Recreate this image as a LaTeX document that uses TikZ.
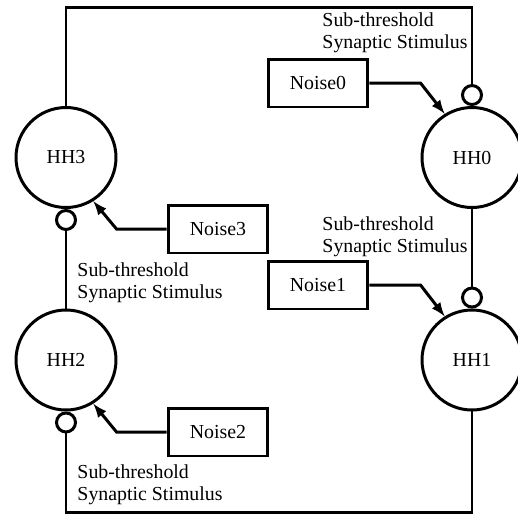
\documentclass[tikz,border=0pt]{standalone}
\usepackage{fontspec}
\setmainfont{Liberation Serif}
\usepackage{tikz}
\usetikzlibrary{arrows}

\begin{document}
\begin{tikzpicture}[x=0.02cm, y=-0.02cm, line width=1.7pt,
  every node/.style={font=\fontsize{11.3}{12.5}\selectfont},
  neuron/.style={draw, circle, minimum size=2cm, inner sep=0pt},
  synapse/.style={draw, circle, minimum size=0.38cm, inner sep=0pt},
  noise/.style={draw, rectangle, minimum width=2cm, minimum height=0.96cm, inner sep=0pt},
  stim/.style={align=left, anchor=base west, inner sep=0pt}]
  \useasboundingbox (0,0) rectangle (518,515);
  % neurons
  \node[neuron] (hh0) at (472,157.5) {HH0};
  \node[neuron] (hh1) at (472,360) {HH1};
  \node[neuron] (hh2) at (66,360) {HH2};
  \node[neuron] (hh3) at (66,157.5) {HH3};
  % synapses
  \node[synapse, anchor=south] (s0) at (hh0.north) {};
  \node[synapse, anchor=south] (s1) at (hh1.north) {};
  \node[synapse, anchor=north] (s2) at (hh2.south) {};
  \node[synapse, anchor=north] (s3) at (hh3.south) {};
  % noise sources
  \node[noise] (n0) at (318,83) {Noise0};
  \node[noise] (n1) at (318,285) {Noise1};
  \node[noise] (n2) at (218,432) {Noise2};
  \node[noise] (n3) at (218,229) {Noise3};
  % stimulus labels
  \node[stim] (l0) at (321,48) {Sub-threshold\\Synaptic Stimulus};
  \node[stim] (l1) at (321,252) {Sub-threshold\\Synaptic Stimulus};
  \node[stim] (l2) at (76,500) {Sub-threshold\\Synaptic Stimulus};
  \node[stim] (l3) at (76,298) {Sub-threshold\\Synaptic Stimulus};
  % ring
  \coordinate (tl) at (66,7);
  \coordinate (br) at (472,512);
  \draw (hh3.north) -- (tl) -| (s0.north);
  \draw (hh0.south) -- (s1.north);
  \draw (hh1.south) -- (br) -| (s2.south);
  \draw (hh2.north) -- (s3.south);
  % noise inputs
  \draw[-latex] (n0.east) -- ++(51,0) -- (hh0.122);
  \draw[-latex] (n1.east) -- ++(51,0) -- (hh1.122);
  \draw[-latex] (n2.west) -- ++(-50,0) -- (hh2.-58);
  \draw[-latex] (n3.west) -- ++(-50,0) -- (hh3.-58);
\end{tikzpicture}
\end{document}
